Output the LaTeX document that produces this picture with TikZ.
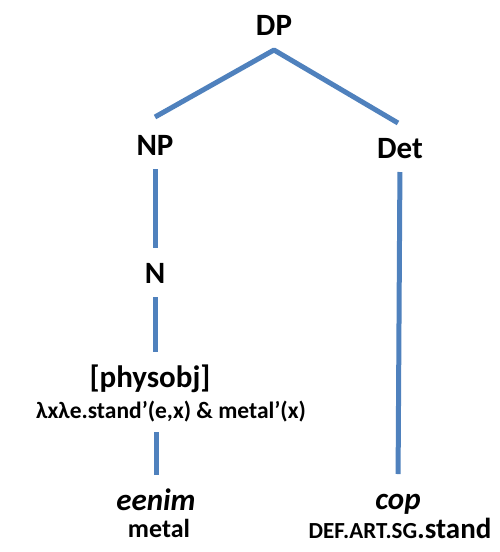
\documentclass[tikz,border=0pt]{standalone}
\usepackage{fontspec}
\setmainfont{Carlito}
\usepackage{xcolor}
\definecolor{branchblue}{HTML}{4F81BD}

\begin{document}
\begin{tikzpicture}[x=1pt, y=-1pt]
\def \gap {14pt}
\tikzset{
  cat/.style={inner sep=0pt, outer sep=0pt, anchor=base, text height=21pt, text depth=0pt, font=\fontsize{31}{31}\selectfont\bfseries},
  sem/.style={cat, font=\fontsize{23.5}{23.5}\selectfont\bfseries},
  gloss/.style={cat, font=\fontsize{26}{26}\selectfont\bfseries},
  branch/.style={draw=branchblue, line width=5pt, shorten <=\gap, shorten >=\gap},
  slant/.style={draw=branchblue, line width=5pt, line join=round}
}
\useasboundingbox (0,0) rectangle (499,552);

\node[cat] at (274,35) (DP) {DP};
\node[cat] at (155,155) (NP) {NP};
\node[cat] at (400,158) (Det) {Det};
\node[cat] at (155,283) (N) {N};
\node[cat] at (150,387) (phys) {[physobj]};
\node[sem] at (171,418) (sem) {λxλe.stand’(e,x) \& metal’(x)};
\node[cat] at (156,510) (eenim) {\textit{eenim}};
\node[gloss] at (159,537) (metal) {metal};
\node[cat] at (398,509) (cop) {\textit{cop}};
\node[gloss] at (400,538) (copgloss) {{\fontsize{23}{23}\selectfont DEF.ART.SG}{\fontsize{29}{29}\selectfont.stand}};

\path[slant] ([yshift=17pt]NP.north) -- ([yshift=-15pt]DP.south) -- ([yshift=14pt,xshift=-2pt]Det.north);
\path[branch] (NP.south) -- (N.north);
\path[branch] (N.south) -- (N.south |- phys.north);
\path[branch] (eenim.north |- sem.south) -- (eenim.north);
\path[branch] (Det.south) -- (cop.north);

\end{tikzpicture}
\end{document}
